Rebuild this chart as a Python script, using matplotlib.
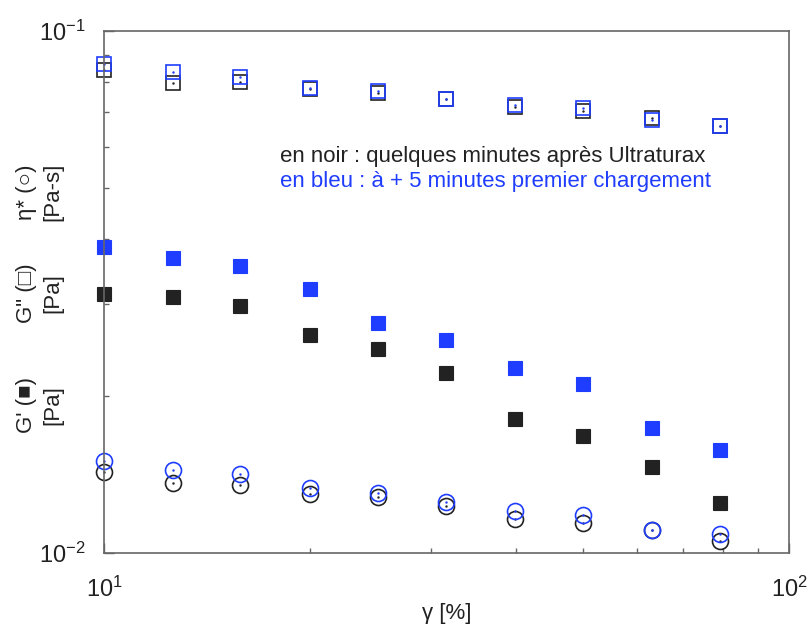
import matplotlib
matplotlib.use('Agg')
import matplotlib.pyplot as plt
from matplotlib.ticker import NullFormatter, LogLocator

plt.rcParams['font.family'] = ['Liberation Sans', 'DejaVu Sans']

strain = [10, 12.6, 15.8, 20, 25.1, 31.6, 39.8, 50.1, 63.1, 79.4]

# black: a few minutes after Ultraturax
g_loss_black = [0.0842, 0.0795, 0.0799, 0.0774, 0.0761, 0.0741, 0.0715, 0.0703, 0.0681, 0.0659]
g_stor_black = [0.03135, 0.03093, 0.02973, 0.02616, 0.02459, 0.02212, 0.01806, 0.01675, 0.01462, 0.01247]
eta_black = [0.01429, 0.01362, 0.0135, 0.01297, 0.0128, 0.0123, 0.01160, 0.01142, 0.01107, 0.01054]

# blue: + 5 minutes, first loading
g_loss_blue = [0.0865, 0.0835, 0.0815, 0.0778, 0.0768, 0.0741, 0.0721, 0.0712, 0.0675, 0.0659]
g_stor_blue = [0.03857, 0.03674, 0.03547, 0.03204, 0.02758, 0.02559, 0.02262, 0.02107, 0.01736, 0.01575]
eta_blue = [0.0150, 0.01442, 0.01417, 0.01332, 0.01303, 0.01252, 0.01204, 0.01183, 0.01107, 0.01087]

BLACK = '#222222'
BLUE = '#1f3dff'

fig = plt.figure(figsize=(8.09, 6.30), dpi=100)
ax = fig.add_axes([0.1286, 0.1222, 0.8467, 0.8286])

for color, gl, gs, eta in [(BLACK, g_loss_black, g_stor_black, eta_black),
                           (BLUE, g_loss_blue, g_stor_blue, eta_blue)]:
  ax.plot(strain, gs, 's', color=color, markersize=10, markeredgewidth=0.8, clip_on=False)
  ax.plot(strain, gl, 's', mfc='none', mec=color, markersize=9.5, markeredgewidth=1.2, clip_on=False)
  ax.plot(strain, eta, 'o', mfc='none', mec=color, markersize=11.5, markeredgewidth=1.2, clip_on=False)
  # small centre dots like in the original
  ax.plot(strain, gl, '.', color=color, markersize=1.5, clip_on=False)
  ax.plot(strain, eta, '.', color=color, markersize=1.5, clip_on=False)

ax.set_xscale('log')
ax.set_yscale('log')
ax.set_xlim(10, 100)
ax.set_ylim(0.01, 0.1)

ax.xaxis.set_minor_locator(LogLocator(base=10, subs=range(2, 10)))
ax.yaxis.set_minor_locator(LogLocator(base=10, subs=range(2, 10)))
ax.xaxis.set_minor_formatter(NullFormatter())
ax.yaxis.set_minor_formatter(NullFormatter())

for s in ax.spines.values():
  s.set_color('#666666')
  s.set_linewidth(1.2)
ax.tick_params(which='both', direction='in', colors='#666666', labelcolor='#222222')
ax.tick_params(which='major', length=7, width=1, labelsize=17)
ax.tick_params(which='minor', length=3.5, width=1)
ax.tick_params(axis='x', which='major', pad=17)
ax.tick_params(axis='y', which='major', pad=13)

ax.set_xlabel('γ [%]', fontsize=16, color='#222222', labelpad=1)

ylabel_kw = dict(rotation=90, ha='center', va='center', fontsize=16,
                 color='#222222', linespacing=1.35, multialignment='center')
fig.text(0.049, 0.357, "G' (■)\n[Pa]", **ylabel_kw)
fig.text(0.049, 0.535, 'G" (□)\n[Pa]', **ylabel_kw)
fig.text(0.049, 0.695, 'η* (○)\n[Pa-s]', **ylabel_kw)

ax.text(0.257, 0.760, 'en noir : quelques minutes après Ultraturax',
        transform=ax.transAxes, fontsize=16, color=BLACK, ha='left', va='center')
ax.text(0.257, 0.711, 'en bleu : à + 5 minutes premier chargement',
        transform=ax.transAxes, fontsize=16, color=BLUE, ha='left', va='center')

fig.savefig('out.png', dpi=100)
